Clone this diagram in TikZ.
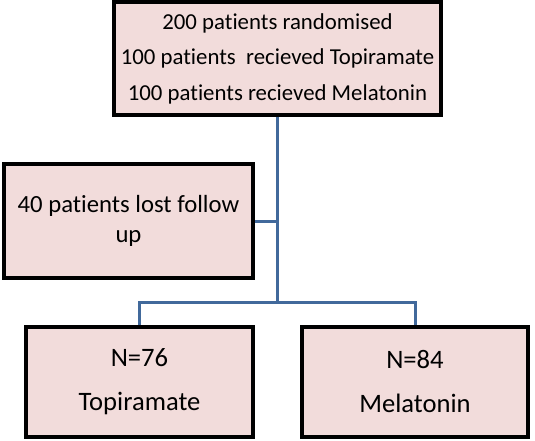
\documentclass[tikz,border=0pt]{standalone}
\usepackage{fontspec}
\setmainfont{Carlito}[Ligatures={NoCommon}]
\definecolor{boxfill}{RGB}{242,220,219}
\definecolor{linkblue}{RGB}{65,105,155}
\begin{document}
\begin{tikzpicture}[x=1pt,y=-1pt,
  box/.style={draw=black, line width=4pt, fill=boxfill, rectangle, align=center, inner sep=0pt},
  link/.style={draw=linkblue, line width=3pt}]
\useasboundingbox (0,0) rectangle (535,441);
\coordinate (split) at (277.5,302);
\coordinate (lostj) at (277.5,221);
\node[box, minimum width=327pt, minimum height=113pt, font=\fontsize{22.8}{35.5}\selectfont] (top) at (277.5,58.5)
  {200 patients randomised\\100 patients\ \ recieved Topiramate\\100 patients recieved Melatonin};
\node[box, minimum width=249pt, minimum height=114pt, font=\fontsize{24.7}{30}\selectfont] (lost) at (128.5,221)
  {40 patients lost follow\\up};
\node[box, minimum width=227pt, minimum height=110pt, font=\fontsize{26.6}{44}\selectfont] (topi) at (139.5,382)
  {N=76\\Topiramate};
\node[box, minimum width=226pt, minimum height=110pt, font=\fontsize{26.6}{44}\selectfont] (mela) at (415,382)
  {N=84\\Melatonin};
\draw[link] (top.south -| split) -- (split);
\draw[link] (lost.east |- lostj) -- (lostj);
\draw[link] (split) -- (split -| topi.north) -- (topi.north);
\draw[link] (split) -- (split -| mela.north) -- (mela.north);
\end{tikzpicture}
\end{document}
